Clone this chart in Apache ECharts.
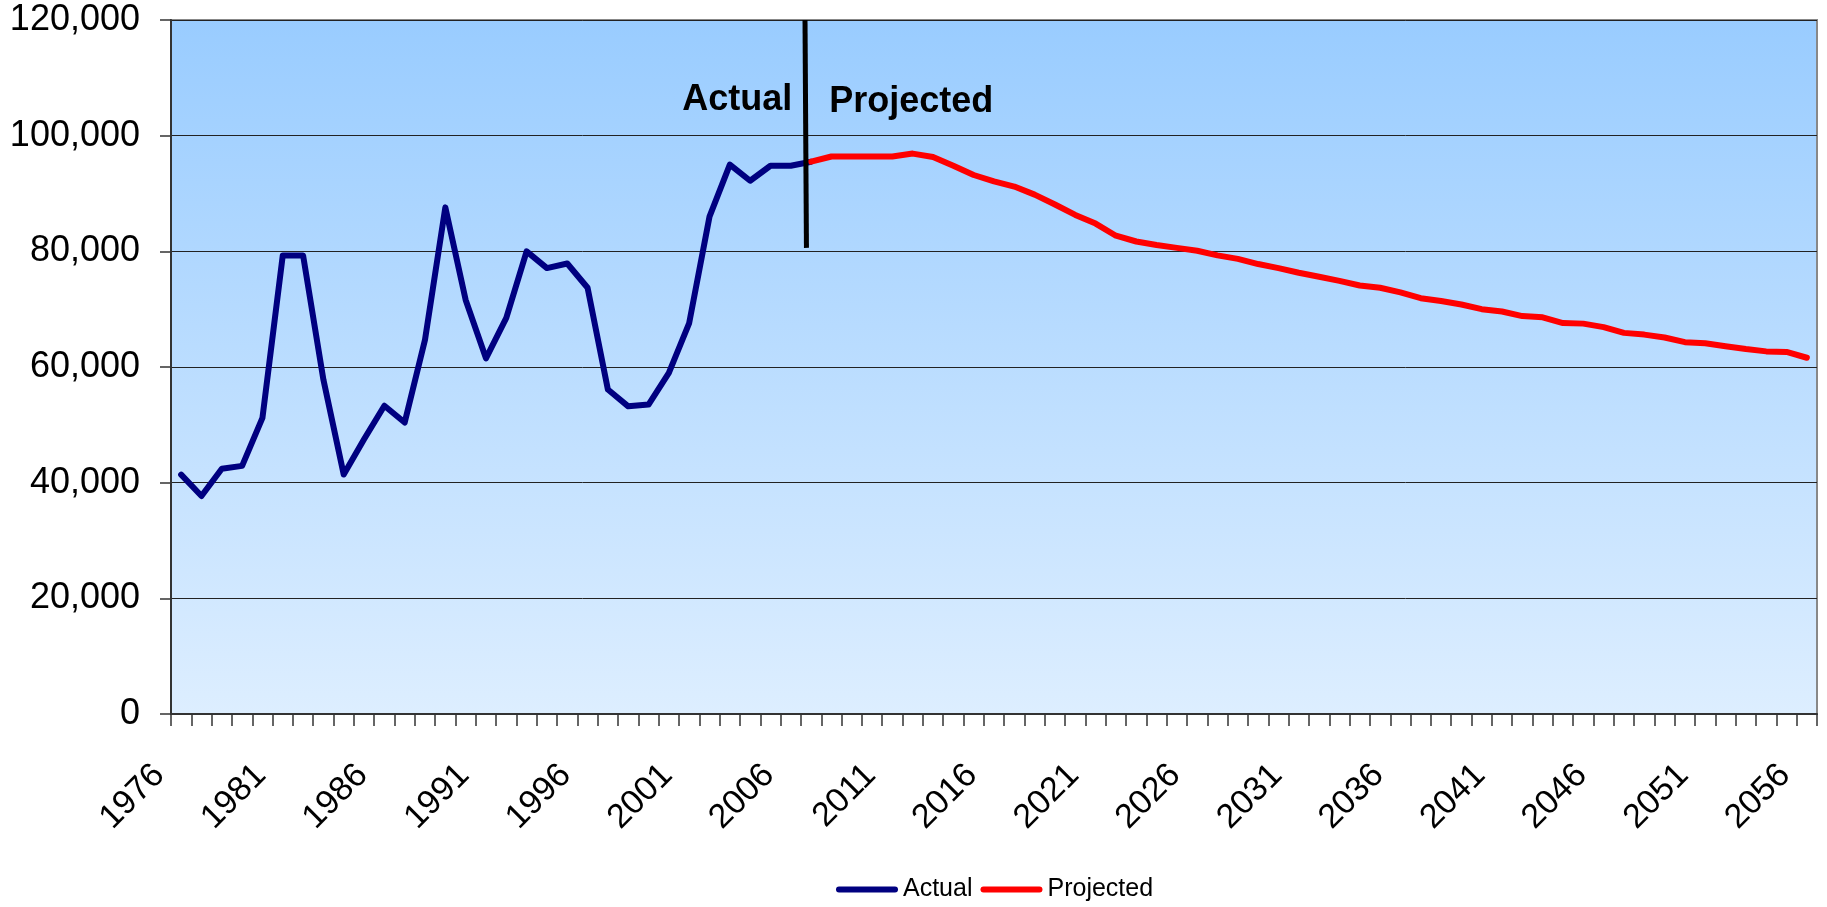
<!DOCTYPE html>
<html>
<head>
<meta charset="utf-8">
<script src="https://cdn.jsdelivr.net/npm/echarts@6/dist/echarts.min.js"></script>
<style>
  html, body { margin: 0; padding: 0; background: #ffffff; }
  #chart { width: 1827px; height: 907px; }
</style>
</head>
<body>
<div id="chart"></div>
<script>
// Years on the category axis
const years = [
  '1976','1977','1978','1979','1980','1981','1982','1983','1984','1985',
  '1986','1987','1988','1989','1990','1991','1992','1993','1994','1995',
  '1996','1997','1998','1999','2000','2001','2002','2003','2004','2005',
  '2006','2007','2008','2009','2010','2011','2012','2013','2014','2015',
  '2016','2017','2018','2019','2020','2021','2022','2023','2024','2025',
  '2026','2027','2028','2029','2030','2031','2032','2033','2034','2035',
  '2036','2037','2038','2039','2040','2041','2042','2043','2044','2045',
  '2046','2047','2048','2049','2050','2051','2052','2053','2054','2055',
  '2056'
];

// Recorded values, 1976-2007
const actualValues = [
  41400, 37700, 42400, 42900, 51200, 79300, 79300, 57800, 41400, 47500,
  53300, 50400, 64700, 87600, 71600, 61500, 68500, 80000, 77100, 77900,
  73700, 56100, 53200, 53500, 59000, 67600, 86000, 95000, 92200, 94800,
  94800, 95500
];

// Projection, 2007-2056
const projectedStart = '2007';
const projectedValues = [
  95500, 96400, 96400, 96400, 96400, 96900, 96300, 94800, 93200, 92100,
  91200, 89800, 88100, 86300, 84800, 82700, 81700, 81100, 80600, 80100,
  79300, 78700, 77800, 77100, 76300, 75600, 74900, 74100, 73700, 72900,
  71900, 71400, 70800, 70000, 69600, 68800, 68600, 67600, 67500, 66900,
  65900, 65600, 65100, 64300, 64100, 63600, 63100, 62700, 62600, 61600
];

// Value axis ticks
const yMin = 0, yMax = 120000, yStep = 20000;

// Divider between recorded and projected years (x in category-index units)
const dividerPoints = [[30.7, 120000], [30.77, 80600]];

// Headings either side of the divider
const notes = [
  { name: 'Actual',    value: [30.07, 106200], side: 'left' },
  { name: 'Projected', value: [31.89, 105800], side: 'right' }
];

const startIdx = years.indexOf(projectedStart);
const actualSeries = years.map((y, i) => i < actualValues.length ? actualValues[i] : null);
const projectedSeries = years.map((y, i) => i >= startIdx ? projectedValues[i - startIdx] : null);

const FONT = '"Liberation Sans", Arial, sans-serif';
const chart = echarts.init(document.getElementById('chart'), null, { renderer: 'canvas' });

chart.setOption({
  animation: false,
  backgroundColor: '#ffffff',
  textStyle: { fontFamily: FONT },
  grid: {
    left: 171, right: 10, top: 20, bottom: 193,
    show: true,
    borderColor: '#888888',
    borderWidth: 2,
    backgroundColor: {
      type: 'linear', x: 0, y: 0, x2: 0, y2: 1,
      colorStops: [
        { offset: 0, color: '#99CCFF' },
        { offset: 1, color: '#DDEEFF' }
      ]
    }
  },
  legend: {
    data: ['Actual', 'Projected'],
    left: 836,
    top: 877,
    padding: 0,
    itemGap: 8,
    itemWidth: 62,
    itemHeight: 6,
    icon: 'path://M3,0H59A3,3 0 0 1 59,6H3A3,3 0 0 1 3,0Z',
    textStyle: { fontSize: 25, color: '#000000', fontFamily: FONT }
  },
  xAxis: [
    {
      type: 'category',
      data: years,
      boundaryGap: true,
      axisLine: { show: true, onZero: false, lineStyle: { color: '#333333', width: 2 } },
      axisTick: { show: true, interval: 0, length: 12, lineStyle: { color: '#333333', width: 1.5 } },
      axisLabel: {
        interval: 4,
        rotate: 45,
        margin: 34,
        fontSize: 34,
        color: '#000000',
        fontFamily: FONT,
        padding: [0, 31, 0, 0]
      },
      splitLine: { show: false }
    },
    {
      type: 'value',
      min: -0.5,
      max: years.length - 0.5,
      show: false
    }
  ],
  yAxis: {
    type: 'value',
    min: yMin,
    max: yMax,
    interval: yStep,
    axisLine: { show: true, onZero: false, lineStyle: { color: '#333333', width: 2 } },
    axisTick: { show: true, length: 11, lineStyle: { color: '#333333', width: 1.5 } },
    axisLabel: {
      margin: 31,
      fontSize: 36,
      color: '#000000',
      fontFamily: FONT,
      formatter: v => v.toLocaleString('en-US')
    },
    splitLine: { show: true, lineStyle: { color: '#222222', width: 1 } }
  },
  series: [
    {
      name: 'Actual',
      type: 'line',
      data: actualSeries,
      symbol: 'none',
      connectNulls: false,
      itemStyle: { color: '#000080' },
      lineStyle: { color: '#000080', width: 6, join: 'round', cap: 'round' },
      z: 3
    },
    {
      name: 'Projected',
      type: 'line',
      data: projectedSeries,
      symbol: 'none',
      connectNulls: false,
      itemStyle: { color: '#FF0000' },
      lineStyle: { color: '#FF0000', width: 6, join: 'round', cap: 'round' },
      z: 3
    },
    {
      name: 'divider',
      type: 'line',
      xAxisIndex: 1,
      data: dividerPoints,
      symbol: 'none',
      silent: true,
      lineStyle: { color: '#000000', width: 5 },
      z: 5
    },
    {
      name: 'notes',
      type: 'scatter',
      xAxisIndex: 1,
      symbolSize: 0,
      silent: true,
      itemStyle: { color: '#000000', opacity: 0 },
      data: notes.map(n => ({
        name: n.name,
        value: n.value,
        label: { position: n.side }
      })),
      label: {
        show: true,
        distance: 0,
        formatter: '{b}',
        fontSize: 36,
        fontWeight: 'bold',
        color: '#000000',
        opacity: 1,
        fontFamily: FONT
      },
      z: 6
    }
  ]
});
</script>
</body>
</html>
